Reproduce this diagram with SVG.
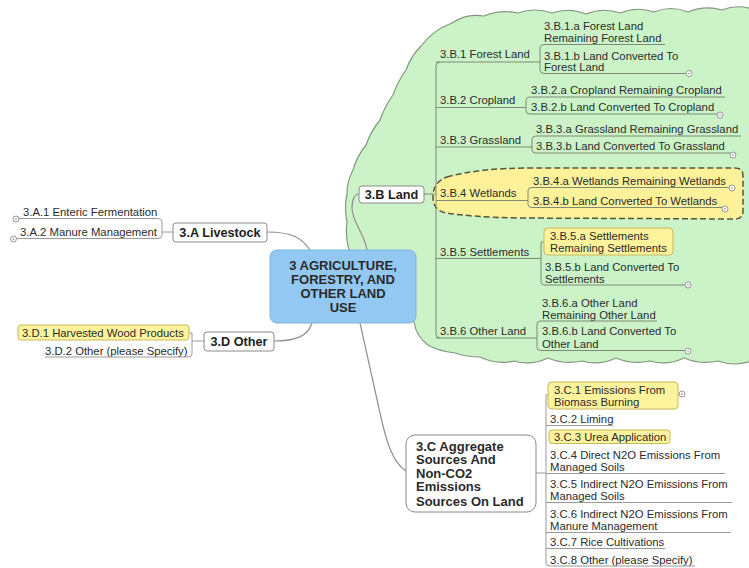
<svg xmlns="http://www.w3.org/2000/svg" width="749" height="568" viewBox="0 0 749 568">
<style>
.t{font-family:"Liberation Sans",Arial,sans-serif;font-size:11.3px;fill:#2b2b2b}
.b{font-weight:bold;font-size:12.7px;fill:#1e1e1e}
.c{font-weight:bold;font-size:13px;fill:#2a2a2a}
.ul{stroke:#7d8a78;stroke-width:1;fill:none}
.ug{stroke:#9a9a9a;stroke-width:1;fill:none}
.cn{stroke:#8f8f8f;stroke-width:1.2;fill:none}
.box{fill:#ffffff;stroke:#8a8a8a;stroke-width:1}
.yel{fill:#fdf39c;stroke:#c8b85e;stroke-width:1}
.cir{fill:#ffffff;stroke:#8a8a8a;stroke-width:0.9}
.dot{fill:#777}
</style>
<defs>
<g id="col"><circle class="cir" r="3"/><circle class="dot" r="0.8"/></g>
</defs>
<rect width="749" height="568" fill="#ffffff"/>

<g id="boundary">
<path d="M452,23 Q466,13 484,16 Q500,9 518,13 Q535,7 552,13 Q569,7 586,14 Q603,7 620,13 Q637,6 654,12 Q671,5 688,12 Q705,5 722,10 Q737,4 752,9 L760,9 L760,361 L752,361 Q735,367 718,361 Q701,365 684,358 Q667,366 650,361 Q633,365 616,358 Q599,366 582,361 Q565,365 548,358 Q531,366 514,361 Q497,365 480,357 Q466,357 455,353 Q438,351 428,345 Q416,336 414,322 L360,260 L349,250 Q345,236 347,222 Q344,207 347,194 Q347,181 353,170 Q357,156 366,145 Q371,131 380,120 Q385,106 393,95 Q398,81 406,70 Q411,56 421,46 Q433,30 452,23 Z" fill="#ccf3c8" stroke="#859680" stroke-width="1.2"/>
<path d="M447,177 Q480,168 530,168 L735,168 Q743,168 743,176 L743,211 Q743,219 735,219 L520,218 Q470,217 447,213 Q433,211 433,197 Q433,182 447,177 Z" fill="#fdf29a" stroke="#55553a" stroke-width="1.5" stroke-dasharray="6 3"/>
</g>

<g id="connectors">
<path class="cn" d="M267,232 C292,232 302,238 310,250"/>
<path class="cn" d="M274,341 C296,341 308,336 312,323"/>
<path class="cn" d="M367,250 C364,232 352,222 352,208 C352,199 355,194 359,194"/>
<path class="cn" d="M360,323 L380,413 C386,440 392,462 406,471"/>
<path class="ug" d="M158,218.5 Q162,218.5 162,222 L162,235 Q162,238.5 158,238.5"/>
<path class="ug" d="M162,232 L173,232"/>
<path class="ug" d="M189,333 L192,333 L192,354 Q192,357 188,357"/>
<path class="ug" d="M192,341 L204,341"/>
<path class="ul" d="M424,194 L436,194"/>
<path class="ul" d="M440,62 Q436,62 436,66 L436,334 Q436,338 440,338"/>
<path class="ul" d="M544,44.5 Q540,44.5 540,48 L540,70 Q540,73.5 544,73.5"/>
<path class="ul" d="M530,97 Q526,97 526,100 L526,111 Q526,114 530,114"/>
<path class="ul" d="M536,136 Q532,136 532,139 L532,150 Q532,153 536,153"/>
<path class="ul" d="M532,187.5 Q528,187.5 528,190.5 L528,204.5 Q528,207.5 532,207.5"/>
<path class="ul" d="M544,242 L541,242 L541,282 Q541,285 545,285"/>
<path class="ul" d="M541,321 Q537,321 537,324 L537,347.5 Q537,350.5 541,350.5"/>
<path class="ug" d="M536,473 L546,473"/>
<path class="ug" d="M548,395 L546,395 L546,563 Q546,566 550,566"/>
</g>

<g id="central">
<rect x="270" y="250" width="146" height="73" rx="7" fill="#92c8f2" stroke="#7ab4e2" stroke-width="1"/>
<text class="t c" x="343" y="270" text-anchor="middle">3 AGRICULTURE,</text>
<text class="t c" x="343" y="284" text-anchor="middle">FORESTRY, AND</text>
<text class="t c" x="343" y="298" text-anchor="middle">OTHER LAND</text>
<text class="t c" x="343" y="312" text-anchor="middle">USE</text>
</g>

<g id="n3A">
<rect class="box" x="173" y="223" width="94" height="19" rx="3"/>
<text class="t b" x="220" y="236.5" text-anchor="middle">3.A Livestock</text>
</g>
<g id="n3A1">
<text class="t" x="23" y="216">3.A.1 Enteric Fermentation</text>
<path class="ug" d="M19,218.5 L158,218.5"/>
<use href="#col" x="16" y="219"/>
</g>
<g id="n3A2">
<text class="t" x="20" y="236">3.A.2 Manure Management</text>
<path class="ug" d="M16.5,238.5 L158,238.5"/>
<use href="#col" x="13.5" y="239"/>
</g>

<g id="n3D">
<rect class="box" x="204" y="332" width="70" height="19" rx="3"/>
<text class="t b" x="239" y="345.5" text-anchor="middle">3.D Other</text>
</g>
<g id="n3D1">
<rect class="yel" x="18" y="325" width="171" height="15" rx="3"/>
<text class="t" x="22" y="336.5">3.D.1 Harvested Wood Products</text>
</g>
<g id="n3D2">
<text class="t" x="45" y="354.5">3.D.2 Other (please Specify)</text>
<path class="ug" d="M45,357 L188,357"/>
</g>

<g id="n3B">
<rect class="box" x="359" y="186" width="65" height="17" rx="3"/>
<text class="t b" x="391.5" y="199" text-anchor="middle">3.B Land</text>
</g>
<g id="n3B1">
<text class="t" x="440" y="58">3.B.1 Forest Land</text>
<path class="ul" d="M436,62 L540,62"/>
</g>
<g id="n3B1a">
<text class="t" x="544" y="29.5">3.B.1.a Forest Land</text>
<text class="t" x="544" y="42">Remaining Forest Land</text>
<path class="ul" d="M544,44.5 L665,44.5"/>
</g>
<g id="n3B1b">
<text class="t" x="544" y="59.5">3.B.1.b Land Converted To</text>
<text class="t" x="544" y="71">Forest Land</text>
<path class="ul" d="M544,73.5 L686,73.5"/>
<use href="#col" x="689" y="73.5"/>
</g>
<g id="n3B2">
<text class="t" x="440" y="104">3.B.2 Cropland</text>
<path class="ul" d="M436,107.5 L526,107.5"/>
</g>
<g id="n3B2a">
<text class="t" x="531" y="94">3.B.2.a Cropland Remaining Cropland</text>
<path class="ul" d="M530,97 L725,97"/>
</g>
<g id="n3B2b">
<text class="t" x="531" y="111">3.B.2.b Land Converted To Cropland</text>
<path class="ul" d="M530,114 L717,114"/>
<use href="#col" x="720" y="115"/>
</g>
<g id="n3B3">
<text class="t" x="440" y="144">3.B.3 Grassland</text>
<path class="ul" d="M436,147 L532,147"/>
</g>
<g id="n3B3a">
<text class="t" x="536" y="133">3.B.3.a Grassland Remaining Grassland</text>
<path class="ul" d="M536,136 L741,136"/>
</g>
<g id="n3B3b">
<text class="t" x="536" y="150">3.B.3.b Land Converted To Grassland</text>
<path class="ul" d="M536,153 L730,153"/>
<use href="#col" x="733" y="155"/>
</g>
<g id="n3B4">
<text class="t" x="440" y="197">3.B.4 Wetlands</text>
<path class="ul" d="M436,200.5 L528,200.5"/>
</g>
<g id="n3B4a">
<text class="t" x="533" y="185">3.B.4.a Wetlands Remaining Wetlands</text>
<path class="ul" d="M532,187.5 L729,187.5"/>
<use href="#col" x="732" y="188"/>
</g>
<g id="n3B4b">
<text class="t" x="533" y="205">3.B.4.b Land Converted To Wetlands</text>
<path class="ul" d="M532,207.5 L722,207.5"/>
<use href="#col" x="725" y="209"/>
</g>
<g id="n3B5">
<text class="t" x="440" y="255.5">3.B.5 Settlements</text>
<path class="ul" d="M436,258.5 L541,258.5"/>
</g>
<g id="n3B5a">
<rect class="yel" x="544" y="228" width="129" height="27" rx="4"/>
<text class="t" x="550" y="240">3.B.5.a Settlements</text>
<text class="t" x="550" y="252">Remaining Settlements</text>
</g>
<g id="n3B5b">
<text class="t" x="545" y="271">3.B.5.b Land Converted To</text>
<text class="t" x="545" y="282.5">Settlements</text>
<path class="ul" d="M545,285 L685,285"/>
<use href="#col" x="688" y="285"/>
</g>
<g id="n3B6">
<text class="t" x="440" y="335">3.B.6 Other Land</text>
<path class="ul" d="M436,338 L537,338"/>
</g>
<g id="n3B6a">
<text class="t" x="542" y="307">3.B.6.a Other Land</text>
<text class="t" x="542" y="318.5">Remaining Other Land</text>
<path class="ul" d="M541,321 L657,321"/>
</g>
<g id="n3B6b">
<text class="t" x="542" y="335">3.B.6.b Land Converted To</text>
<text class="t" x="542" y="347.5">Other Land</text>
<path class="ul" d="M541,350.5 L685,350.5"/>
<use href="#col" x="688" y="351"/>
</g>

<g id="n3C">
<rect class="box" x="406" y="435" width="130" height="77" rx="9"/>
<text class="t c" x="416" y="450.5">3.C Aggregate</text>
<text class="t c" x="416" y="464">Sources And</text>
<text class="t c" x="416" y="477.5">Non-CO2</text>
<text class="t c" x="416" y="491">Emissions</text>
<text class="t c" x="416" y="505.5">Sources On Land</text>
</g>
<g id="n3C1">
<rect class="yel" x="548" y="382" width="130" height="27" rx="4"/>
<text class="t" x="554" y="393.5">3.C.1 Emissions From</text>
<text class="t" x="554" y="406">Biomass Burning</text>
<use href="#col" x="682" y="394"/>
</g>
<g id="n3C2">
<text class="t" x="550" y="423">3.C.2 Liming</text>
<path class="ug" d="M546,425.5 L613,425.5"/>
</g>
<g id="n3C3">
<rect class="yel" x="549" y="430" width="121" height="13.5" rx="3"/>
<text class="t" x="554" y="441">3.C.3 Urea Application</text>
</g>
<g id="n3C4">
<text class="t" x="550" y="458.5">3.C.4 Direct N2O Emissions From</text>
<text class="t" x="550" y="471">Managed Soils</text>
<path class="ug" d="M546,473.5 L725,473.5"/>
</g>
<g id="n3C5">
<text class="t" x="550" y="487.5">3.C.5 Indirect N2O Emissions From</text>
<text class="t" x="550" y="500">Managed Soils</text>
<path class="ug" d="M546,502.5 L732,502.5"/>
</g>
<g id="n3C6">
<text class="t" x="550" y="517.5">3.C.6 Indirect N2O Emissions From</text>
<text class="t" x="550" y="529.5">Manure Management</text>
<path class="ug" d="M546,532.5 L731,532.5"/>
</g>
<g id="n3C7">
<text class="t" x="550" y="546">3.C.7 Rice Cultivations</text>
<path class="ug" d="M546,548.5 L665,548.5"/>
</g>
<g id="n3C8">
<text class="t" x="550" y="563.5">3.C.8 Other (please Specify)</text>
<path class="ug" d="M550,566 L695,566"/>
</g>
</svg>
